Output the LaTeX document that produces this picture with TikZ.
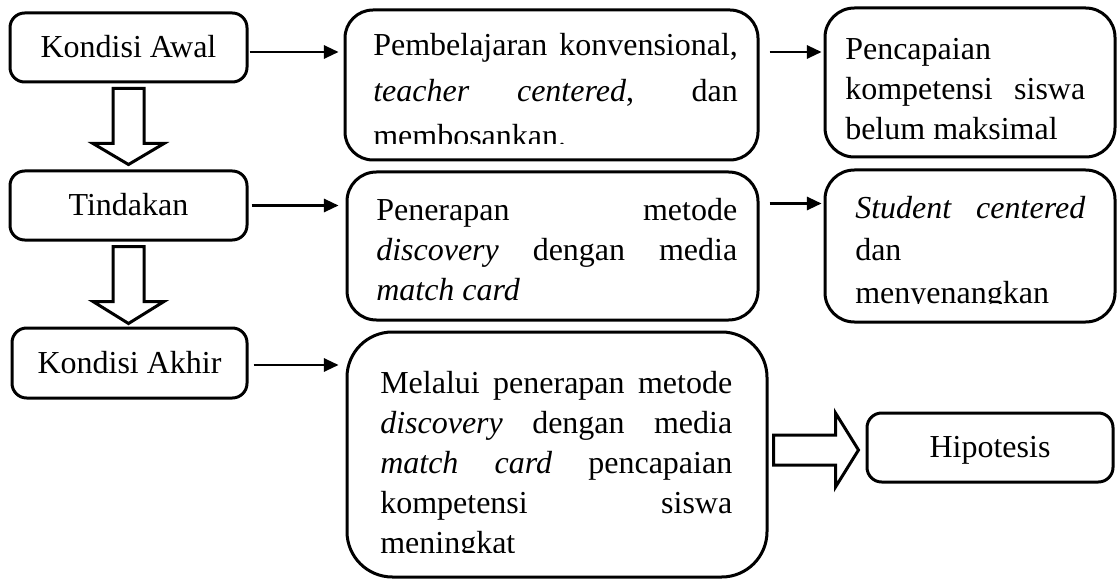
\documentclass[tikz,border=0pt]{standalone}
\usepackage{fontspec}
\setmainfont{Liberation Serif}
\usetikzlibrary{fit,calc,arrows.meta}

% one justified line, and a closing line set flush left
\newcommand\fullline[1]{\hbox to\hsize{#1}}
\newcommand\lastline[1]{\hbox to\hsize{#1\hfil}}
% a block of lines: width, line distance, lines; its baseline is the first line's
\newcommand\textblock[3]{\vtop{\hsize=#1\baselineskip=#2\lineskiplimit=-100pt #3}}

\begin{document}
\begin{tikzpicture}[x=0.75pt,y=-0.75pt,
  font=\fontsize{24pt}{30pt}\selectfont,
  box/.style={draw, line width=2.25pt, rounded corners=#1, inner sep=0pt},
  box/.default=11pt,
  conn/.style={line width=1.6pt, -{Triangle[length=11pt,width=10pt]}},
  hollow/.style={draw, line width=2.25pt, fill=white, line join=miter},
  txt/.style={inner sep=0pt, anchor=base west},
  lbl/.style={inner sep=0pt, anchor=base}]

\useasboundingbox (0,0) rectangle (1117,581);

% left column: stages
\node[box, fit={(10,13)(247,82)}]   (awal)     {};
\node[box, fit={(10,171)(247,240)}] (tindakan) {};
\node[box, fit={(12,328)(247,398)}] (akhir)    {};
\node[lbl] (awallbl)     at ($(awal.center)+(0,10)$)     {Kondisi Awal};
\node[lbl] (tindakanlbl) at ($(tindakan.center)+(0,10)$) {Tindakan};
\node[lbl] (akhirlbl)    at ($(akhir.center)+(0,10)$)    {Kondisi Akhir};

% description boxes
\node[box=21pt, fit={(345,10)(758,160)}]   (p1) {};
\node[box=22pt, fit={(825,8)(1115,157)}]   (p2) {};
\node[box=22pt, fit={(347,172)(758,320)}]  (q1) {};
\node[box=22pt, fit={(825,170)(1115,322)}] (q2) {};
\node[box=34pt, fit={(347,332)(767,577)}]  (r1) {};
\node[box, fit={(867,413)(1113,482)}]      (hip) {};
\node[lbl] (hiplbl) at ($(hip.center)+(0,10)$) {Hipotesis};

% box texts, cut off at the inner margin of each box
\begin{scope}
  \clip (345,10) rectangle (758,144);
  \node[txt] (p1txt) at (373,56) {\textblock{273.5pt}{34pt}{%
    \fullline{Pembelajaran konvensional,}%
    \fullline{\textit{teacher} \textit{centered}, dan}%
    \lastline{membosankan.}}};
\end{scope}
\begin{scope}
  \clip (825,8) rectangle (1115,141);
  \node[txt] (p2txt) at (845,60) {\textblock{180pt}{30pt}{%
    \lastline{Pencapaian}%
    \fullline{kompetensi siswa}%
    \lastline{belum maksimal}}};
\end{scope}
\node[txt] (q1txt) at (376,220) {\textblock{270.75pt}{30pt}{%
    \fullline{Penerapan metode}%
    \fullline{\textit{discovery} dengan media}%
    \lastline{\textit{match card}}}};
\begin{scope}
  \clip (825,170) rectangle (1115,303);
  \node[txt] (q2txt) at (855,219) {\textblock{172.5pt}{31.5pt}{%
    \fullline{\textit{Student} \textit{centered}}%
    \lastline{dan}%
    \lastline{menyenangkan}}};
\end{scope}
\begin{scope}
  \clip (347,332) rectangle (767,552);
  \node[txt] (r1txt) at (380,393) {\textblock{264pt}{30pt}{%
    \fullline{Melalui penerapan metode}%
    \fullline{\textit{discovery} dengan media}%
    \fullline{\textit{match card} pencapaian}%
    \fullline{kompetensi siswa}%
    \lastline{meningkat}}};
\end{scope}

% thin arrows
\draw[conn] ($(awal.east)+(1,4.5)$) -- ($(awal.east -| p1.west)+(-5,4.5)$);
\draw[conn] ($(p1.east |- awal.east)+(10,4.5)$) -- ($(p2.west |- awal.east)+(-2,4.5)$);
\draw[conn] ($(tindakan.east)+(3,0)$) -- ($(tindakan.east -| q1.west)+(-7,0)$);
\draw[conn] ($(q1.east |- tindakan.east)+(10,-2)$) -- ($(q2.west |- tindakan.east)+(-2,-2)$);
\draw[conn] ($(akhir.east)+(5,2)$) -- ($(akhir.east -| r1.west)+(-7,2)$);

% hollow block arrows
\draw[hollow] ($(awal.south)+(-15.5,5)$) -- ($(awal.south |- tindakan.north)+(-15.5,-26)$)
  -- ($(awal.south |- tindakan.north)+(-35.5,-26)$) -- ($(awal.south |- tindakan.north)+(0,-5)$)
  -- ($(awal.south |- tindakan.north)+(35.5,-26)$) -- ($(awal.south |- tindakan.north)+(15.5,-26)$)
  -- ($(awal.south)+(15.5,5)$) -- cycle;
\draw[hollow] ($(tindakan.south)+(-15.5,5)$) -- ($(tindakan.south |- akhir.north)+(-15.5,-25)$)
  -- ($(tindakan.south |- akhir.north)+(-35.5,-25)$) -- ($(tindakan.south |- akhir.north)+(0,-3)$)
  -- ($(tindakan.south |- akhir.north)+(35.5,-25)$) -- ($(tindakan.south |- akhir.north)+(15.5,-25)$)
  -- ($(tindakan.south)+(15.5,5)$) -- cycle;
\coordinate (hc) at ($(hip.west)+(0,2.5)$);
\draw[hollow] ($(r1.east |- hc)+(5,-15)$) -- ($(hc)+(-30,-15)$) -- ($(hc)+(-30,-37)$)
  -- ($(hc)+(-7,0)$) -- ($(hc)+(-30,37)$) -- ($(hc)+(-30,15)$)
  -- ($(r1.east |- hc)+(5,15)$) -- cycle;
\end{tikzpicture}
\end{document}
